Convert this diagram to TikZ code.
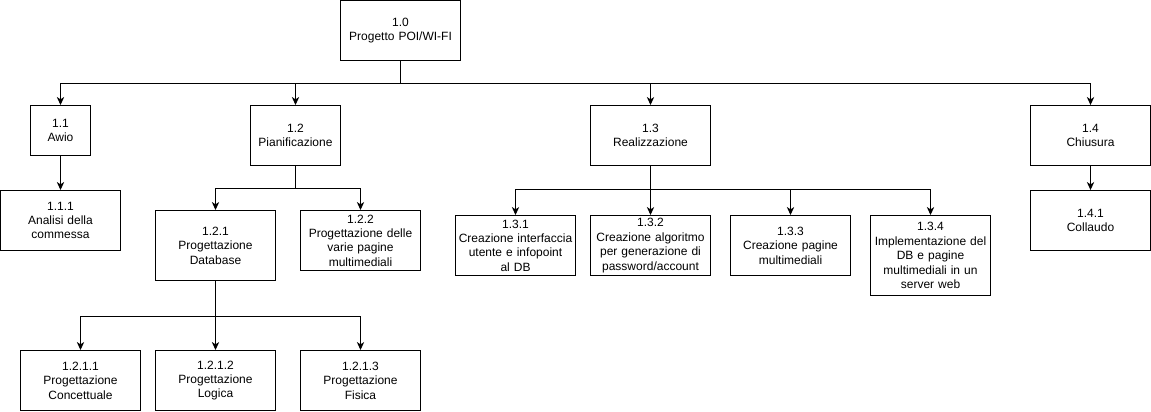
\documentclass[tikz,border=0pt]{standalone}
\usepackage{fontspec}
\setmainfont{Liberation Sans}
\usetikzlibrary{arrows.meta}
\begin{document}
\begin{tikzpicture}[x=0.75pt,y=-0.75pt,
  box/.style={draw=black,line width=0.75pt,fill=white,inner sep=0pt,align=center,
    font=\fontsize{9pt}{10.8pt}\selectfont,text width=#1},
  box/.default={118\pgflinewidth},
  arr/.style={draw=black,line width=0.75pt,-{Stealth[length=6pt,width=5.5pt,inset=1.8pt]}}]
\useasboundingbox (-0.5,-0.5) rectangle (1150.5,410.5);
% level 0
\node[box=87pt,minimum width=90pt,minimum height=45pt] (n10) at (400,30) {1.0\\Progetto POI/WI-FI};
% level 1
\node[box=43pt,minimum width=45pt,minimum height=37.5pt] (n11) at (60,130) {1.1\\Awio};
\node[box=65pt,minimum width=67.5pt,minimum height=45pt] (n12) at (295,135) {1.2\\Pianificazione};
\node[box=87pt,minimum width=90pt,minimum height=45pt] (n13) at (650,135) {1.3\\Realizzazione};
\node[box=87pt,minimum width=90pt,minimum height=45pt] (n14) at (1090,135) {1.4\\Chiusura};
% level 2
\node[box=87pt,minimum width=90pt,minimum height=45pt] (n111) at (60,220) {1.1.1\\Analisi della\\commessa};
\node[box=87pt,minimum width=90pt,minimum height=52.5pt] (n121) at (215,245) {1.2.1\\Progettazione\\Database};
\node[box=88pt,minimum width=90pt,minimum height=45pt] (n122) at (360,240) {1.2.2\\Progettazione delle\\varie pagine\\multimediali};
\node[box=89pt,minimum width=90pt,minimum height=45pt] (n131) at (515,245) {1.3.1\\Creazione interfaccia\\utente e infopoint\\al DB};
\node[box=89pt,minimum width=90pt,minimum height=45pt] (n132) at (650,245) {1.3.2\\Creazione algoritmo\\per generazione di\\password/account};
\node[box=89pt,minimum width=90pt,minimum height=45pt] (n133) at (790,245) {1.3.3\\Creazione pagine\\multimediali};
\node[box=89pt,minimum width=90pt,minimum height=60pt] (n134) at (930,255) {1.3.4\\Implementazione del\\DB e pagine\\multimediali in un\\server web};
\node[box=87pt,minimum width=90pt,minimum height=45pt] (n141) at (1090,220) {1.4.1\\Collaudo};
% level 3
\node[box=87pt,minimum width=90pt,minimum height=45pt] (n1211) at (80,380) {1.2.1.1\\Progettazione\\Concettuale};
\node[box=87pt,minimum width=90pt,minimum height=45pt] (n1212) at (215,380) {1.2.1.2\\Progettazione\\Logica};
\node[box=87pt,minimum width=90pt,minimum height=45pt] (n1213) at (360,380) {1.2.1.3\\Progettazione\\Fisica};
% connectors
\foreach \t in {n11,n12,n13,n14}
  \draw[arr] (n10.south) -- ++(0,22.7) -| (\t.north);
\draw[arr] (n11.south) -- (n111.north);
\foreach \t in {n121,n122}
  \draw[arr] (n12.south) -- ++(0,22.5) -| (\t.north);
\foreach \t in {n1211,n1212,n1213}
  \draw[arr] (n121.south) -- ++(0,35) -| (\t.north);
\foreach \t in {n131,n132,n133,n134}
  \draw[arr] (n13.south) -- ++(0,23) -| (\t.north);
\draw[arr] (n14.south) -- (n141.north);
\end{tikzpicture}
\end{document}
